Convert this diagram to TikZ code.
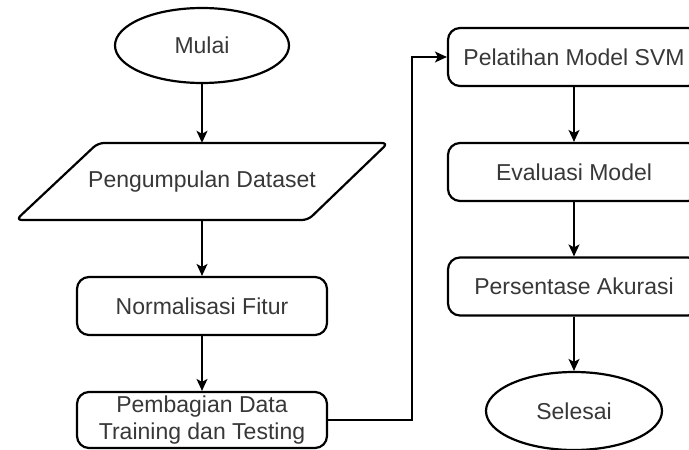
\documentclass[tikz,border=0pt]{standalone}
\usepackage{fontspec}
\setmainfont{Liberation Sans}
\usetikzlibrary{shapes.geometric,arrows.meta}
\definecolor{txt}{HTML}{383838}
\begin{document}
\begin{tikzpicture}[x=1pt,y=-1pt,
  every node/.style={font=\fontsize{23}{28}\selectfont, text=txt, inner sep=0pt},
  term/.style={ellipse, draw, line width=2.2pt, minimum width=174pt, minimum height=75pt},
  proc/.style={rectangle, rounded corners=12pt, draw, line width=2.2pt, minimum width=250pt, minimum height=58pt, align=center},
  conn/.style={line width=1.5pt, -{Stealth[length=12pt,width=11pt,inset=3pt]}}
]
\useasboundingbox (0,0) rectangle (689,450);
\fill[white] (0,0) rectangle (689,450);

\node[term] (mulai) at (202,45.5) {Mulai};

% parallelogram
\coordinate (p1) at (98,143);
\coordinate (p2) at (388,143);
\coordinate (p3) at (308,220);
\coordinate (p4) at (16,220);
\draw[line width=2.2pt, rounded corners=6pt] (p1) -- (p2) -- (p3) -- (p4) -- cycle;
\node[minimum width=290pt, minimum height=77pt] (peng) at (202,181.5) {Pengumpulan Dataset};

\node[proc] (norm) at (202,306) {Normalisasi Fitur};
\node[proc, minimum height=56pt] (pemb) at (202,420) {Pembagian Data\\[-1pt]Training dan Testing};

\node[proc, minimum width=252pt] (pel) at (574,57) {Pelatihan Model SVM};
\node[proc, minimum width=252pt] (eval) at (574,172) {Evaluasi Model};
\node[proc, minimum width=252pt] (pers) at (574,286.5) {Persentase Akurasi};
\node[term, minimum width=176pt, minimum height=78pt] (sel) at (574,411) {Selesai};

\draw[conn] (mulai.south) -- (peng.north);
\draw[conn] (peng.south) -- (norm.north);
\draw[conn] (norm.south) -- (pemb.north);
\coordinate (bend) at (412,420);
\draw[conn] (pemb.east) -- (bend) |- (pel.west);
\draw[conn] (pel.south) -- (eval.north);
\draw[conn] (eval.south) -- (pers.north);
\draw[conn] (pers.south) -- (sel.north);
\end{tikzpicture}
\end{document}
